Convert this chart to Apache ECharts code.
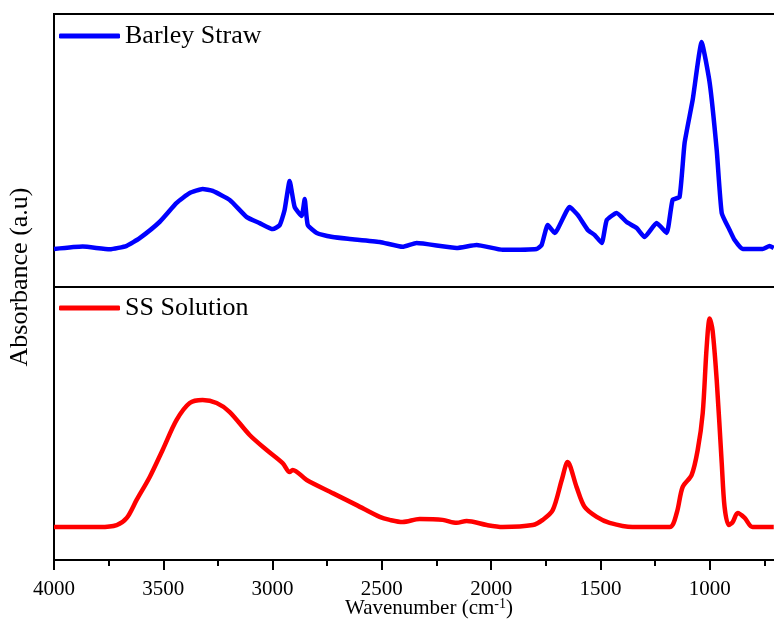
<!DOCTYPE html>
<html>
<head>
<meta charset="utf-8">
<script src="https://cdn.jsdelivr.net/npm/echarts@6/dist/echarts.min.js"></script>
<style>
html,body{margin:0;padding:0;background:#fff;}
#chart{width:774px;height:621px;}
</style>
</head>
<body>
<div id="chart"></div>
<script>
// Barley Straw spectrum (wavenumber cm-1, absorbance a.u.)
var barleyWn  = [4000,3869,3745,3667,3608,3516,3439,3379,3320,3274,3196,3118,3059,2999,2967,2945,2922,2899,2867,2853,2839,2798,2725,2647,2510,2405,2341,2158,2066,1947,1792,1769,1741,1709,1641,1604,1558,1526,1494,1471,1426,1380,1334,1298,1243,1197,1170,1138,1115,1078,1037,1000,968,945,909,886,849,758,726,707];
var barleyAbs = [0.139,0.148,0.138,0.151,0.179,0.239,0.308,0.344,0.359,0.352,0.319,0.256,0.234,0.212,0.227,0.282,0.388,0.293,0.260,0.322,0.227,0.198,0.183,0.176,0.165,0.147,0.161,0.143,0.154,0.136,0.139,0.154,0.227,0.198,0.293,0.264,0.209,0.190,0.161,0.245,0.271,0.238,0.216,0.183,0.234,0.198,0.319,0.330,0.527,0.685,0.897,0.747,0.502,0.271,0.209,0.172,0.139,0.139,0.150,0.143];
// SS Solution spectrum
var ssWn  = [4000,3791,3713,3667,3622,3562,3503,3439,3379,3320,3256,3196,3105,3027,2954,2922,2908,2844,2725,2615,2510,2464,2405,2327,2222,2158,2112,2020,1947,1810,1764,1718,1677,1650,1609,1572,1517,1458,1353,1183,1151,1124,1083,1055,1032,1014,1000,987,968,945,932,913,895,872,840,804,707];
var ssAbs = [0.121,0.121,0.128,0.154,0.220,0.304,0.403,0.513,0.575,0.586,0.575,0.542,0.458,0.403,0.355,0.322,0.330,0.293,0.245,0.201,0.158,0.147,0.139,0.150,0.147,0.136,0.143,0.128,0.121,0.128,0.147,0.183,0.293,0.359,0.267,0.194,0.158,0.136,0.121,0.121,0.172,0.267,0.311,0.403,0.538,0.780,0.885,0.842,0.659,0.355,0.194,0.128,0.139,0.172,0.154,0.121,0.121];
var xTicks = [4000,3500,3000,2500,2000,1500,1000];
var seriesNames = ['Barley Straw','SS Solution'];

function zip(a,b){var r=[];for(var i=0;i<a.length;i++){r.push([a[i],b[i]]);}return r;}

var chart = echarts.init(document.getElementById('chart'));
var serif = '"Liberation Serif","Times New Roman",serif';
var xCommon = {type:'value', inverse:true, min:500, max:4000, interval:500};
chart.setOption({
  animation:false,
  backgroundColor:'#fff',
  grid:[
    {left:54, width:765, top:14, height:273, show:true, borderColor:'#000', borderWidth:2, backgroundColor:'transparent', containLabel:false, outerBoundsMode:'none'},
    {left:54, width:765, top:287, height:273, show:true, borderColor:'#000', borderWidth:2, backgroundColor:'transparent', containLabel:false, outerBoundsMode:'none'}
  ],
  xAxis:[
    Object.assign({gridIndex:0, axisLine:{show:false}, axisTick:{show:false}, axisLabel:{show:false}, splitLine:{show:false}}, xCommon),
    Object.assign({gridIndex:1,
      axisLine:{show:true, onZero:false, lineStyle:{color:'#000', width:2}},
      axisTick:{show:true, inside:false, length:10, lineStyle:{color:'#000', width:2}},
      minorTick:{show:true, splitNumber:2, length:6, lineStyle:{color:'#000', width:2}},
      axisLabel:{show:true, margin:19, color:'#000', fontFamily:serif, fontSize:21,
        formatter:function(v){return xTicks.indexOf(v)>=0 ? String(v) : '';}},
      splitLine:{show:false}}, xCommon)
  ],
  yAxis:[
    {type:'value', gridIndex:0, min:0, max:1, show:false},
    {type:'value', gridIndex:1, min:0, max:1, show:false}
  ],
  legend:[
    {data:[seriesNames[0]], left:59, top:23, padding:0, icon:'roundRect', itemWidth:61, itemHeight:5, itemGap:6,
     textStyle:{fontFamily:serif, fontSize:26, color:'#000', lineHeight:26}},
    {data:[seriesNames[1]], left:59, top:295, padding:0, icon:'roundRect', itemWidth:61, itemHeight:5, itemGap:6,
     textStyle:{fontFamily:serif, fontSize:26, color:'#000', lineHeight:26}}
  ],
  graphic:[
    {type:'text', rotation:Math.PI/2, position:[20,277],
     style:{text:'Absorbance (a.u)', font:'26px "Liberation Serif", serif', fill:'#000', textAlign:'center', textVerticalAlign:'middle'}},
    {type:'text', position:[429,608],
     style:{text:'{a|Wavenumber (cm}{s|-1}{a|)}', fill:'#000', textAlign:'center', textVerticalAlign:'middle',
       rich:{a:{fontFamily:serif, fontSize:21, color:'#000'}, s:{fontFamily:serif, fontSize:14, color:'#000', verticalAlign:'top', padding:[0,0,8,0]}}}}
  ],
  series:[
    {name:seriesNames[0], type:'line', xAxisIndex:0, yAxisIndex:0, data:zip(barleyWn,barleyAbs), showSymbol:false, symbol:'none',
     smooth:0.15, lineStyle:{color:'#0000ff', width:4.5}, itemStyle:{color:'#0000ff'}},
    {name:seriesNames[1], type:'line', xAxisIndex:1, yAxisIndex:1, data:zip(ssWn,ssAbs), showSymbol:false, symbol:'none',
     smooth:0.3, lineStyle:{color:'#ff0000', width:4.5}, itemStyle:{color:'#ff0000'}}
  ]
});
</script>
</body>
</html>
